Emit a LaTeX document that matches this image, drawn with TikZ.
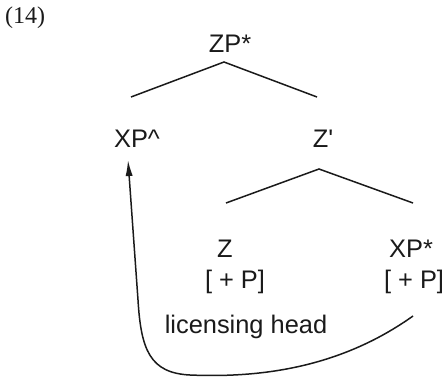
\documentclass[tikz,border=0pt]{standalone}
\usepackage{fontspec}
\newfontfamily\labelfont{Liberation Sans}
\newfontfamily\numfont{Liberation Serif}
\usetikzlibrary{arrows.meta}
\definecolor{inkgrey}{HTML}{1A1A1A}

\begin{document}
\begin{tikzpicture}[x=0.5pt,y=-0.5pt,
    lbl/.style={anchor=base,inner sep=1pt,text=inkgrey,font=\labelfont\fontsize{12.7}{15}\selectfont},
    branch/.style={inkgrey,line width=0.75pt},
    move/.style={inkgrey,line width=0.75pt,-{Latex[length=8pt,width=3.6pt]}}]
  \useasboundingbox (0,0) rectangle (443,380);
  % example number
  \node[lbl,font=\numfont\fontsize{12}{14}\selectfont] (exnum) at (25,23) {(14)};
  % labels of the tree
  \node[lbl] (zp)    at (230,52)  {ZP*};
  \node[lbl] (xpa)   at (137,147) {XP\textasciicircum};
  \node[lbl] (zbar)  at (323,147) {Z'};
  \node[lbl] (zhead) at (225,257) {Z};
  \node[lbl] (xps)   at (411,257) {XP*};
  \node[lbl] (lfeat) at (235,288) {[ + P]};
  \node[lbl] (rfeat) at (414,288) {[ + P]};
  \node[lbl] (lichd) at (246,333) {licensing head};
  % branch points
  \coordinate (zpTop) at (224,62);
  \coordinate (zpL)   at (131,97);
  \coordinate (zpR)   at (317,97);
  \coordinate (zbTop) at (319,169);
  \coordinate (zbL)   at (226,203);
  \coordinate (zbR)   at (413,203);
  \draw[branch] (zpL) -- (zpTop) -- (zpR);
  \draw[branch] (zbL) -- (zbTop) -- (zbR);
  % movement of XP
  \coordinate (moveFrom) at (413,316);
  \coordinate (moveTo)   at (128,160);
  \draw[move] (moveFrom) .. controls (340,368) and (260,378) .. (190,375)
              .. controls (150,373) and (141,350) .. (138,300) -- (moveTo);
\end{tikzpicture}
\end{document}
